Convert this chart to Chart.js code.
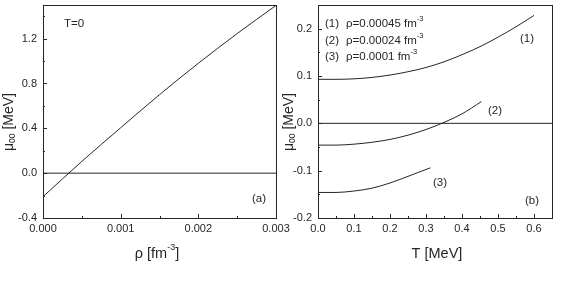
<!DOCTYPE html>
<html>
<head>
<meta charset="utf-8">
<script src="https://cdn.jsdelivr.net/npm/chart.js@4/dist/chart.umd.min.js"></script>
<style>
  html, body { margin: 0; padding: 0; background: #fff; }
  body { width: 565px; height: 283px; position: relative; overflow: hidden; }
  .panel { position: absolute; top: 0; }
</style>
</head>
<body>
<canvas id="panelA" class="panel" width="300" height="283" style="left:0px"></canvas>
<canvas id="panelB" class="panel" width="285" height="283" style="left:280px"></canvas>
<script>
// (a) mu00 vs density at T=0
const rhoA = [0, 0.0005, 0.001, 0.0015, 0.002, 0.0025, 0.003];
const muA = [-0.21, 0.105, 0.405, 0.700, 0.980, 1.245, 1.496];
const xTicksA = [0, 0.001, 0.002, 0.003];
const xMinorA = [0.0005, 0.0015, 0.0025];
const yTicksA = [-0.4, 0, 0.4, 0.8, 1.2];
const yMinorA = [-0.2, 0.2, 0.6, 1.0, 1.4];

// (b) mu00 vs temperature, three densities
const temp1 = [0, 0.05, 0.1, 0.15, 0.2, 0.25, 0.3, 0.35, 0.4, 0.45, 0.5, 0.55, 0.6];
const mu1 = [0.093, 0.093, 0.094, 0.097, 0.102, 0.109, 0.118, 0.130, 0.145, 0.162, 0.182, 0.204, 0.228];
const temp2 = [0, 0.05, 0.1, 0.15, 0.2, 0.25, 0.3, 0.35, 0.4, 0.454];
const mu2 = [-0.046, -0.046, -0.044, -0.040, -0.034, -0.025, -0.013, 0.002, 0.020, 0.046];
const temp3 = [0, 0.05, 0.1, 0.15, 0.2, 0.25, 0.312];
const mu3 = [-0.146, -0.146, -0.143, -0.137, -0.126, -0.112, -0.094];
const legendB = ['(1)', '(2)', '(3)'];
const densB = ['\u03c1=0.00045 fm', '\u03c1=0.00024 fm', '\u03c1=0.0001 fm'];
const xTicksB = [0, 0.1, 0.2, 0.3, 0.4, 0.5, 0.6];
const xMinorB = [0.05, 0.15, 0.25, 0.35, 0.45, 0.55];
const yTicksB = [-0.2, -0.1, 0, 0.1, 0.2];
const yMinorB = [-0.15, -0.05, 0.05, 0.15];

const ink = '#262626';
const family = '"Liberation Sans", Arial, sans-serif';

function pts(xs, ys) {
  return xs.map((x, i) => ({ x: x, y: ys[i] }));
}

function curve(data) {
  return {
    data: data,
    borderColor: ink,
    borderWidth: 1,
    pointRadius: 0,
    fill: false,
    cubicInterpolationMode: 'monotone'
  };
}

function txt(ctx, s, x, y, size, align) {
  ctx.font = size + 'px ' + family;
  ctx.textAlign = align || 'left';
  ctx.textBaseline = 'middle';
  ctx.fillText(s, x, y);
  return ctx.measureText(s).width;
}

// frame + inward ticks + the texts of each panel
function decor(minorX, minorY, extra) {
  return {
    id: 'decor',
    afterDraw(chart) {
      const ctx = chart.ctx;
      const a = chart.chartArea;
      const sx = chart.scales.x, sy = chart.scales.y;
      ctx.save();
      ctx.strokeStyle = ink;
      ctx.fillStyle = ink;
      ctx.lineWidth = 1;
      ctx.strokeRect(Math.round(a.left) + 0.5, Math.round(a.top) + 0.5,
        Math.round(a.right - a.left), Math.round(a.bottom - a.top));
      ctx.beginPath();
      const xt = (v, len) => {
        const p = Math.round(sx.getPixelForValue(v)) + 0.5;
        ctx.moveTo(p, a.bottom); ctx.lineTo(p, a.bottom - len);
      };
      const yt = (v, len) => {
        const p = Math.round(sy.getPixelForValue(v)) + 0.5;
        ctx.moveTo(a.left, p); ctx.lineTo(a.left + len, p);
      };
      sx.ticks.forEach(t => xt(t.value, 4));
      sy.ticks.forEach(t => yt(t.value, 4));
      minorX.forEach(v => xt(v, 2));
      minorY.forEach(v => yt(v, 2));
      ctx.stroke();
      extra(ctx, a);
      ctx.restore();
    }
  };
}

function yTitle(ctx, x, y) {
  ctx.save();
  ctx.translate(x, y);
  ctx.rotate(-Math.PI / 2);
  ctx.font = '14px ' + family;
  const w1 = ctx.measureText('\u03bc').width;
  ctx.font = '8.5px ' + family;
  const w2 = ctx.measureText('00').width;
  ctx.font = '14px ' + family;
  const w3 = ctx.measureText(' [MeV]').width;
  let cx = -(w1 + w2 + w3) / 2;
  txt(ctx, '\u03bc', cx, 0, 14); cx += w1;
  txt(ctx, '00', cx, 4, 8.5); cx += w2;
  txt(ctx, ' [MeV]', cx, 0, 14);
  ctx.restore();
}

function fixY(w) {
  return s => { s.width = w; s.paddingTop = 0; s.paddingBottom = 0; };
}
function fixX(h) {
  return s => { s.height = h; s.paddingLeft = 0; s.paddingRight = 0; };
}

function axes(xmin, xmax, ymin, ymax, xt, yt, xdec, ydec, yw) {
  const tk = { color: ink, font: { family: family, size: 11 }, autoSkip: false, maxRotation: 0 };
  return {
    x: {
      type: 'linear', min: xmin, max: xmax,
      afterBuildTicks: s => { s.ticks = xt.map(v => ({ value: v })); },
      afterFit: fixX(65),
      grid: { display: false, drawTicks: false },
      border: { display: false },
      ticks: Object.assign({}, tk, { padding: 4, callback: v => v.toFixed(xdec) })
    },
    y: {
      type: 'linear', min: ymin, max: ymax,
      afterBuildTicks: s => { s.ticks = yt.map(v => ({ value: v })); },
      afterFit: fixY(yw),
      grid: { display: false, drawTicks: false },
      border: { display: false },
      ticks: Object.assign({}, tk, { padding: 6, callback: v => v.toFixed(ydec) })
    }
  };
}

const common = {
  responsive: false,
  animation: false,
  events: [],
  plugins: { legend: { display: false }, tooltip: { enabled: false } }
};

new Chart(document.getElementById('panelA'), {
  type: 'line',
  data: {
    datasets: [
      curve(pts(rhoA, muA)),
      curve(pts([0, 0.003], [0, 0]))
    ]
  },
  options: Object.assign({}, common, {
    layout: { padding: { top: 5, right: 24, left: 0, bottom: 0 } },
    scales: axes(0, 0.003, -0.4, 1.5, xTicksA, yTicksA, 3, 1, 43)
  }),
  plugins: [decor(xMinorA, yMinorA, (ctx, a) => {
    txt(ctx, 'T=0', 74, 24, 11.5, 'center');
    txt(ctx, '(a)', 259, 199, 11.5, 'center');
    yTitle(ctx, 9, 122);
    // x title with superscript
    ctx.font = '14.5px ' + family;
    const w1 = ctx.measureText('\u03c1 [fm').width;
    ctx.font = '9px ' + family;
    const w2 = ctx.measureText('-3').width;
    ctx.font = '14.5px ' + family;
    const w3 = ctx.measureText(']').width;
    let cx = 157 - (w1 + w2 + w3) / 2;
    txt(ctx, '\u03c1 [fm', cx, 254, 14.5); cx += w1;
    txt(ctx, '-3', cx, 248, 9); cx += w2;
    txt(ctx, ']', cx, 254, 14.5);
  })]
});

new Chart(document.getElementById('panelB'), {
  type: 'line',
  data: {
    datasets: [
      curve(pts(temp1, mu1)),
      curve(pts(temp2, mu2)),
      curve(pts(temp3, mu3)),
      curve(pts([0, 0.65], [0, 0]))
    ]
  },
  options: Object.assign({}, common, {
    layout: { padding: { top: 5, right: 13, left: 0, bottom: 0 } },
    scales: axes(0, 0.65, -0.2, 0.25, xTicksB, yTicksB, 1, 1, 38)
  }),
  plugins: [decor(xMinorB, yMinorB, (ctx, a) => {
    const rows = [24, 41, 57];
    legendB.forEach((lab, i) => {
      txt(ctx, lab, 45, rows[i], 11.5);
      const w = txt(ctx, densB[i], 66, rows[i], 11.5);
      txt(ctx, '-3', 66 + w, rows[i] - 5, 7.5);
    });
    txt(ctx, '(1)', 247, 39, 11.5, 'center');
    txt(ctx, '(2)', 215, 111, 11.5, 'center');
    txt(ctx, '(3)', 160, 183, 11.5, 'center');
    txt(ctx, '(b)', 252, 201, 11.5, 'center');
    yTitle(ctx, 9, 122);
    txt(ctx, 'T [MeV]', 157, 254, 14.5, 'center');
  })]
});
</script>
</body>
</html>
